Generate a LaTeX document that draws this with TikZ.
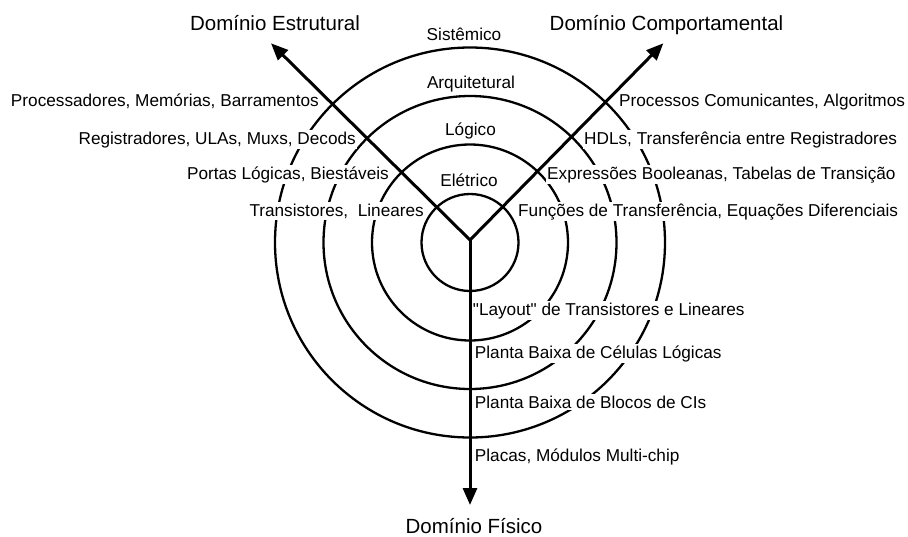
\documentclass[tikz,border=0pt]{standalone}
\usepackage{fontspec}
\setmainfont{Liberation Sans}[Ligatures=TeXOff]
\usetikzlibrary{arrows.meta}
\begin{document}
\begin{tikzpicture}[x=1pt,y=-1pt,
  ring/.style={line width=2.3pt},
  tip/.tip={Triangle[length=17pt,width=14pt]},
  axisline/.style={line width=3pt},
  lbl/.style={font=\fontsize{17.2}{20}\selectfont, fill=white, inner xsep=1pt, inner ysep=1.5pt},
  domtitle/.style={font=\fontsize{20.5}{24}\selectfont, inner sep=0pt},
  lvl/.style={font=\fontsize{17.2}{20}\selectfont, inner sep=0pt}]
\useasboundingbox (0,0) rectangle (908,536);
% centre, vertex and arrow tips
\coordinate (o) at (470,242.5);
\coordinate (v) at (470,240);
\coordinate (tl) at (271,43.3);
\coordinate (tr) at (663.3,43.3);
\coordinate (bt) at (470,505);
% rings
\draw[ring] (o) circle[radius=48.5pt];
\draw[ring] (o) circle[radius=98pt];
\draw[ring] (o) circle[radius=146.5pt];
\draw[ring] (o) circle[radius=195pt];
% level names
\node[lvl, anchor=base] (n1) at (464,40) {Sistêmico};
\node[lvl, anchor=base] (n2) at (471,88) {Arquitetural};
\node[lvl, anchor=base] (n3) at (470.5,135) {Lógico};
\node[lvl, anchor=base] (n4) at (469,186.7) {Elétrico};
% structural domain labels
\node[lbl, anchor=base east] (s1) at (320,106.7) {Processadores, Memórias, Barramentos};
\node[lbl, anchor=base east] (s2) at (357,144) {Registradores, ULAs, Muxs, Decods};
\node[lbl, anchor=base east] (s3) at (390,179.3) {Portas Lógicas, Biestáveis};
\node[lbl, anchor=base east] (s4) at (425,216) {Transistores,\ \ Lineares};
% behavioural domain labels
\node[lbl, anchor=base west] (b1) at (618,106.7) {Processos Comunicantes, Algoritmos};
\node[lbl, anchor=base west] (b2) at (583,144) {HDLs, Transferência entre Registradores};
\node[lbl, anchor=base west] (b3) at (546,179.3) {Expressões Booleanas, Tabelas de Transição};
\node[lbl, anchor=base west] (b4) at (517,216) {Funções de Transferência, Equações Diferenciais};
% physical domain labels
\node[lbl, anchor=base west] (p1) at (471.7,315) {"Layout" de Transistores e Lineares};
\node[lbl, anchor=base west] (p2) at (473.7,358) {Planta Baixa de Células Lógicas};
\node[lbl, anchor=base west] (p3) at (473.7,408) {Planta Baixa de Blocos de CIs};
\node[lbl, anchor=base west] (p4) at (473.7,461.7) {Placas, Módulos Multi-chip};
% axes
\draw[axisline, line join=miter, tip-tip] (tl) -- (v) -- (tr);
\draw[axisline, -tip] (v) -- (bt);
% domain titles
\node[domtitle, anchor=base] (dE) at (275,30) {Domínio Estrutural};
\node[domtitle, anchor=base] (dC) at (666.5,30) {Domínio Comportamental};
\node[domtitle, anchor=base] (dF) at (474,533) {Domínio Físico};
\end{tikzpicture}
\end{document}
